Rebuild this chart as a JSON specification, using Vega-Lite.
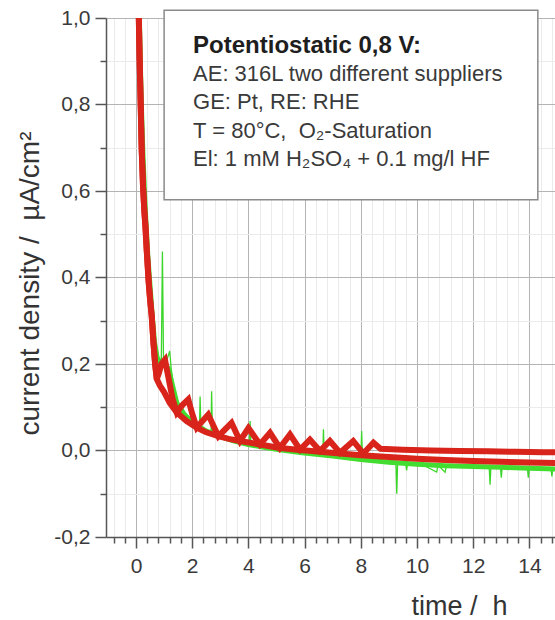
{
  "$schema": "https://vega.github.io/schema/vega-lite/v6.json",
  "width": 449,
  "height": 519,
  "autosize": {"type": "none"},
  "padding": {"left": 106, "top": 18, "right": 0, "bottom": 83},
  "background": "white",
  "config": {"view": {"stroke": null}, "font": "Liberation Sans"},
  "datasets": {
    "curves": [
      {"s":"noise","t":0.12,"v":1.0},{"s":"noise","t":0.2,"v":0.78},{"s":"noise","t":0.3,"v":0.6},{"s":"noise","t":0.42,"v":0.45},{"s":"noise","t":0.5,"v":0.38},{"s":"noise","t":0.6,"v":0.3},{"s":"noise","t":0.7,"v":0.23},{"s":"noise","t":0.8,"v":0.21},{"s":"noise","t":0.9,"v":0.205},{"s":"noise","t":0.94,"v":0.46},{"s":"noise","t":0.98,"v":0.2},{"s":"noise","t":1.1,"v":0.21},{"s":"noise","t":1.2,"v":0.23},{"s":"noise","t":1.25,"v":0.19},{"s":"noise","t":1.4,"v":0.12},{"s":"noise","t":1.6,"v":0.09},{"s":"noise","t":1.8,"v":0.078},{"s":"noise","t":2.0,"v":0.066},{"s":"noise","t":2.26,"v":0.055},{"s":"noise","t":2.28,"v":0.125},{"s":"noise","t":2.31,"v":0.054},{"s":"noise","t":2.5,"v":0.046},{"s":"noise","t":2.67,"v":0.04},{"s":"noise","t":2.69,"v":0.137},{"s":"noise","t":2.72,"v":0.04},{"s":"noise","t":3.0,"v":0.032},{"s":"noise","t":3.5,"v":0.022},{"s":"noise","t":4.03,"v":0.014},{"s":"noise","t":4.06,"v":0.068},{"s":"noise","t":4.09,"v":0.014},{"s":"noise","t":4.5,"v":0.008},{"s":"noise","t":5.0,"v":0.003},{"s":"noise","t":5.5,"v":-0.002},{"s":"noise","t":6.0,"v":-0.006},{"s":"noise","t":6.5,"v":-0.01},{"s":"noise","t":6.65,"v":-0.011},{"s":"noise","t":6.67,"v":0.049},{"s":"noise","t":6.7,"v":-0.011},{"s":"noise","t":7.2,"v":-0.014},{"s":"noise","t":7.6,"v":-0.018},{"s":"noise","t":8.0,"v":-0.021},{"s":"noise","t":8.03,"v":0.045},{"s":"noise","t":8.06,"v":-0.021},{"s":"noise","t":8.6,"v":-0.025},{"s":"noise","t":9.0,"v":-0.027},{"s":"noise","t":9.25,"v":-0.029},{"s":"noise","t":9.28,"v":-0.1},{"s":"noise","t":9.31,"v":-0.029},{"s":"noise","t":9.6,"v":-0.031},{"s":"noise","t":9.63,"v":-0.046},{"s":"noise","t":9.66,"v":-0.031},{"s":"noise","t":10.2,"v":-0.033},{"s":"noise","t":10.7,"v":-0.05},{"s":"noise","t":10.75,"v":-0.034},{"s":"noise","t":11.0,"v":-0.05},{"s":"noise","t":11.05,"v":-0.035},{"s":"noise","t":11.6,"v":-0.036},{"s":"noise","t":12.2,"v":-0.037},{"s":"noise","t":12.57,"v":-0.038},{"s":"noise","t":12.6,"v":-0.079},{"s":"noise","t":12.63,"v":-0.038},{"s":"noise","t":12.97,"v":-0.039},{"s":"noise","t":13.0,"v":-0.063},{"s":"noise","t":13.03,"v":-0.039},{"s":"noise","t":13.5,"v":-0.04},{"s":"noise","t":13.93,"v":-0.041},{"s":"noise","t":13.96,"v":-0.063},{"s":"noise","t":13.99,"v":-0.041},{"s":"noise","t":14.5,"v":-0.042},{"s":"noise","t":14.77,"v":-0.043},{"s":"noise","t":14.8,"v":-0.06},{"s":"noise","t":14.83,"v":-0.043},{"s":"noise","t":15.0,"v":-0.043},

      {"s":"green","t":0.12,"v":1.0},{"s":"green","t":0.16,"v":0.88},{"s":"green","t":0.2,"v":0.78},{"s":"green","t":0.25,"v":0.68},{"s":"green","t":0.3,"v":0.6},{"s":"green","t":0.36,"v":0.52},{"s":"green","t":0.42,"v":0.45},{"s":"green","t":0.5,"v":0.38},{"s":"green","t":0.58,"v":0.31},{"s":"green","t":0.66,"v":0.25},{"s":"green","t":0.75,"v":0.215},{"s":"green","t":0.85,"v":0.205},{"s":"green","t":1.0,"v":0.2},{"s":"green","t":1.15,"v":0.19},{"s":"green","t":1.3,"v":0.15},{"s":"green","t":1.45,"v":0.11},{"s":"green","t":1.7,"v":0.085},{"s":"green","t":2.0,"v":0.065},{"s":"green","t":2.5,"v":0.045},{"s":"green","t":3.0,"v":0.032},{"s":"green","t":3.5,"v":0.022},{"s":"green","t":4.0,"v":0.014},{"s":"green","t":4.5,"v":0.008},{"s":"green","t":5.0,"v":0.003},{"s":"green","t":5.5,"v":-0.002},{"s":"green","t":6.0,"v":-0.006},{"s":"green","t":7.0,"v":-0.013},{"s":"green","t":8.0,"v":-0.021},{"s":"green","t":9.0,"v":-0.027},{"s":"green","t":10.0,"v":-0.032},{"s":"green","t":11.0,"v":-0.035},{"s":"green","t":12.0,"v":-0.037},{"s":"green","t":13.0,"v":-0.039},{"s":"green","t":14.0,"v":-0.041},{"s":"green","t":15.0,"v":-0.043},

      {"s":"redB","t":0.1,"v":1.0},{"s":"redB","t":0.13,"v":0.9},{"s":"redB","t":0.17,"v":0.79},{"s":"redB","t":0.2,"v":0.7},{"s":"redB","t":0.25,"v":0.61},{"s":"redB","t":0.3,"v":0.55},{"s":"redB","t":0.38,"v":0.465},{"s":"redB","t":0.45,"v":0.39},{"s":"redB","t":0.5,"v":0.35},{"s":"redB","t":0.56,"v":0.31},{"s":"redB","t":0.62,"v":0.25},{"s":"redB","t":0.68,"v":0.2},{"s":"redB","t":0.74,"v":0.165},{"s":"redB","t":0.85,"v":0.15},{"s":"redB","t":1.0,"v":0.135},{"s":"redB","t":1.2,"v":0.11},{"s":"redB","t":1.45,"v":0.088},{"s":"redB","t":1.8,"v":0.068},{"s":"redB","t":2.16,"v":0.053},{"s":"redB","t":2.5,"v":0.042},{"s":"redB","t":2.93,"v":0.033},{"s":"redB","t":3.3,"v":0.027},{"s":"redB","t":3.7,"v":0.022},{"s":"redB","t":4.41,"v":0.014},{"s":"redB","t":5.12,"v":0.006},{"s":"redB","t":5.84,"v":0.001},{"s":"redB","t":6.55,"v":-0.003},{"s":"redB","t":7.26,"v":-0.007},{"s":"redB","t":8.0,"v":-0.011},{"s":"redB","t":9.0,"v":-0.015},{"s":"redB","t":10.0,"v":-0.019},{"s":"redB","t":11.0,"v":-0.022},{"s":"redB","t":12.0,"v":-0.024},{"s":"redB","t":13.0,"v":-0.026},{"s":"redB","t":14.0,"v":-0.028},{"s":"redB","t":15.0,"v":-0.029},

      {"s":"redA","t":0.1,"v":1.0},{"s":"redA","t":0.13,"v":0.9},{"s":"redA","t":0.17,"v":0.79},{"s":"redA","t":0.2,"v":0.7},{"s":"redA","t":0.25,"v":0.61},{"s":"redA","t":0.3,"v":0.55},{"s":"redA","t":0.34,"v":0.52},{"s":"redA","t":0.38,"v":0.465},{"s":"redA","t":0.45,"v":0.39},{"s":"redA","t":0.5,"v":0.35},{"s":"redA","t":0.56,"v":0.31},{"s":"redA","t":0.62,"v":0.25},{"s":"redA","t":0.68,"v":0.2},{"s":"redA","t":0.74,"v":0.165},{"s":"redA","t":0.82,"v":0.18},{"s":"redA","t":0.9,"v":0.2},{"s":"redA","t":1.03,"v":0.21},{"s":"redA","t":1.15,"v":0.17},{"s":"redA","t":1.3,"v":0.12},{"s":"redA","t":1.45,"v":0.088},{"s":"redA","t":1.65,"v":0.105},{"s":"redA","t":1.86,"v":0.118},{"s":"redA","t":2.0,"v":0.085},{"s":"redA","t":2.16,"v":0.053},{"s":"redA","t":2.57,"v":0.083},{"s":"redA","t":2.93,"v":0.033},{"s":"redA","t":3.4,"v":0.064},{"s":"redA","t":3.7,"v":0.022},{"s":"redA","t":4.0,"v":0.052},{"s":"redA","t":4.41,"v":0.014},{"s":"redA","t":4.77,"v":0.041},{"s":"redA","t":5.12,"v":0.006},{"s":"redA","t":5.48,"v":0.037},{"s":"redA","t":5.84,"v":0.002},{"s":"redA","t":6.19,"v":0.025},{"s":"redA","t":6.55,"v":-0.001},{"s":"redA","t":6.9,"v":0.022},{"s":"redA","t":7.26,"v":-0.005},{"s":"redA","t":7.73,"v":0.022},{"s":"redA","t":8.09,"v":-0.007},{"s":"redA","t":8.45,"v":0.018},{"s":"redA","t":8.7,"v":0.004},{"s":"redA","t":9.5,"v":0.002},{"s":"redA","t":10.5,"v":0.0},{"s":"redA","t":11.5,"v":-0.001},{"s":"redA","t":12.5,"v":-0.002},{"s":"redA","t":13.5,"v":-0.003},{"s":"redA","t":14.5,"v":-0.004},{"s":"redA","t":15.0,"v":-0.004}
    ]
  },
  "layer": [
    {
      "data": {"name": "curves"},
      "transform": [{"filter": "datum.s === 'noise'"}],
      "mark": {"type": "line", "color": "#3cd62a", "strokeWidth": 1.3, "clip": true},
      "encoding": {
        "x": {
          "field": "t", "type": "quantitative",
          "scale": {"domain": [-1.068, 14.911], "nice": false, "zero": false},
          "axis": {
            "title": "time / \u00a0h",
            "tickCount": 200,
            "values": [-0.8,-0.4,0,0.4,0.8,1.2,1.6,2,2.4,2.8,3.2,3.6,4,4.4,4.8,5.2,5.6,6,6.4,6.8,7.2,7.6,8,8.4,8.8,9.2,9.6,10,10.4,10.8,11.2,11.6,12,12.4,12.8,13.2,13.6,14,14.4,14.8],
            "labelExpr": "abs(datum.value/2-round(datum.value/2))<0.001 ? format(datum.value,'d') : ''",
            "labelFont": "Liberation Sans", "labelFontSize": 21, "labelColor": "#3a3a3a",
            "labelPadding": 7, "labelOverlap": false, "labelFlush": false,
            "tickSize": {"condition": {"test": "abs(datum.value/2-round(datum.value/2))<0.001", "value": 11}, "value": 6},
            "tickColor": "#555555", "tickWidth": 1.5,
            "domainColor": "#555555", "domainWidth": 1.5,
            "grid": true,
            "gridColor": {"condition": {"test": "abs(datum.value/2-round(datum.value/2))<0.001", "value": "#b4b4b4"}, "value": "#ebebeb"},
            "gridWidth": 1,
            "titleFont": "Liberation Sans", "titleFontSize": 27, "titleFontWeight": "normal", "titleColor": "#333333",
            "titleX": 353, "titleY": 77, "titleBaseline": "alphabetic", "titleAlign": "center"
          }
        },
        "y": {
          "field": "v", "type": "quantitative",
          "scale": {"domain": [-0.2, 1.0], "nice": false, "zero": false},
          "axis": {
            "title": "current density / \u00a0µA/cm²",
            "tickCount": 200,
            "values": [-0.2,-0.1,0,0.1,0.2,0.3,0.4,0.5,0.6,0.7,0.8,0.9,1.0],
            "labelExpr": "abs(datum.value*5-round(datum.value*5))<0.001 ? replace(replace(format(datum.value,'.1f'),'.',','),'\u2212','-') : ''",
            "labelFont": "Liberation Sans", "labelFontSize": 21, "labelColor": "#3a3a3a",
            "labelPadding": 5, "labelOverlap": false, "labelFlush": false,
            "tickSize": {"condition": {"test": "abs(datum.value*5-round(datum.value*5))<0.001", "value": 11}, "value": 6},
            "tickColor": "#555555", "tickWidth": 1.5,
            "domainColor": "#555555", "domainWidth": 1.5,
            "grid": true,
            "gridColor": {"condition": {"test": "abs(datum.value*5-round(datum.value*5))<0.001", "value": "#b4b4b4"}, "value": "#ebebeb"},
            "gridWidth": 1,
            "titleFont": "Liberation Sans", "titleFontSize": 28, "titleFontWeight": "normal", "titleColor": "#333333",
            "titleAngle": 270, "titleX": -68, "titleY": 265, "titleBaseline": "alphabetic", "titleAlign": "center"
          }
        }
      }
    },
    {
      "data": {"name": "curves"},
      "transform": [{"filter": "datum.s === 'green'"}],
      "mark": {"type": "line", "color": "#42dd30", "strokeWidth": 5, "clip": true},
      "encoding": {"x": {"field": "t", "type": "quantitative"}, "y": {"field": "v", "type": "quantitative"}}
    },
    {
      "data": {"name": "curves"},
      "transform": [{"filter": "datum.s === 'redB'"}],
      "mark": {"type": "line", "color": "#d8241a", "strokeWidth": 6, "clip": true},
      "encoding": {"x": {"field": "t", "type": "quantitative"}, "y": {"field": "v", "type": "quantitative"}}
    },
    {
      "data": {"name": "curves"},
      "transform": [{"filter": "datum.s === 'redA'"}],
      "mark": {"type": "line", "color": "#d8241a", "strokeWidth": 6, "clip": true},
      "encoding": {"x": {"field": "t", "type": "quantitative"}, "y": {"field": "v", "type": "quantitative"}}
    },
    {
      "data": {"values": [{"note": "box"}]},
      "mark": {"type": "rect", "fill": "white", "stroke": "#8a8a8a", "strokeWidth": 1.5, "clip": false},
      "encoding": {
        "x": {"datum": 1.0, "type": "quantitative"},
        "x2": {"datum": 14.3},
        "y": {"datum": 1.018, "type": "quantitative"},
        "y2": {"datum": 0.58}
      }
    },
    {
      "data": {"values": [{"note": "title"}]},
      "mark": {"type": "text", "text": "Potentiostatic 0,8 V:", "font": "Liberation Sans", "fontSize": 24, "fontWeight": "bold", "align": "left", "baseline": "alphabetic", "color": "#1e1e1e"},
      "encoding": {
        "x": {"datum": 2.03, "type": "quantitative"},
        "y": {"datum": 0.9195, "type": "quantitative"}
      }
    },
    {
      "data": {"values": [{"note": "lines"}]},
      "mark": {"type": "text", "text": ["AE: 316L two different suppliers", "GE: Pt, RE: RHE", "T = 80°C, \u00a0O₂-Saturation", "El: 1 mM H₂SO₄ + 0.1 mg/l HF"], "lineHeight": 28.3, "font": "Liberation Sans", "fontSize": 22, "align": "left", "baseline": "alphabetic", "color": "#3a3a3a"},
      "encoding": {
        "x": {"datum": 2.03, "type": "quantitative"},
        "y": {"datum": 0.854, "type": "quantitative"}
      }
    }
  ]
}
